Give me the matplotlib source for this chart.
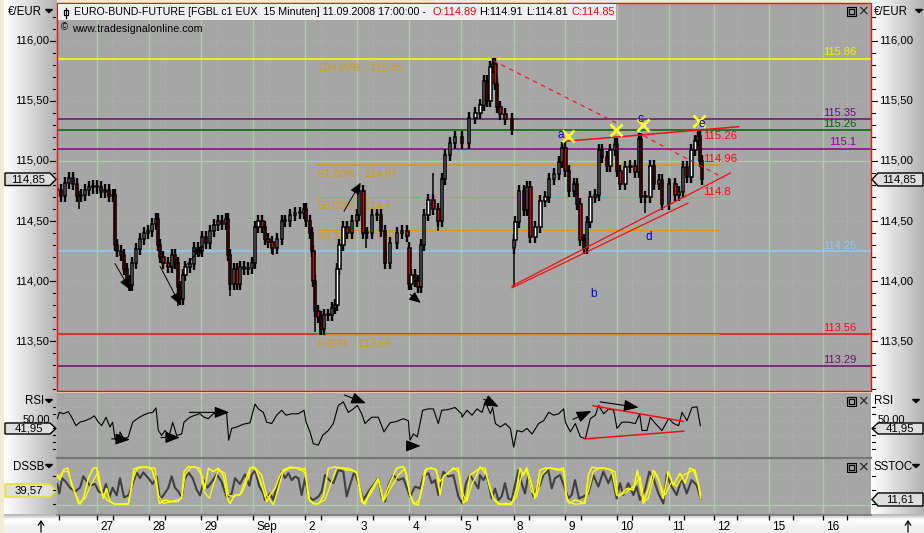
import matplotlib
matplotlib.use("Agg")
import matplotlib.pyplot as plt
import numpy as np
from matplotlib.patches import Polygon, Rectangle
from matplotlib.transforms import ScaledTranslation
from matplotlib.ticker import FixedLocator

plt.rcParams['font.family'] = ['Liberation Sans', 'DejaVu Sans']

# ---- time axis (bar positions) ----
day_pos = [292,448,604,760,916,1072,1228,1384,1541,1696,1850,2006,2141,2306,2468]
day_lab = ["27","28","29","Sep","2","3","4","5","8","9","10","11","12","15","16"]
sub_pos = [178,338,494,650,806,962,1118,1274,1430,1587,1742,1896,2052,2211,2378,2541]

# ---- price candles ----
bar_x = [171,183,195,207,219,231,243,255,267,279,291,303,315,327,339,345,351,363,372,380,390,396,408,420,432,444,456,468,474,480,490,505,515,525,533,540,548,556,570,582,594,606,618,630,642,654,666,678,684,690,702,712,720,732,744,756,765,775,787,795,805,817,830,845,855,870,885,900,912,918,930,936,940,945,955,962,972,985,995,1005,1012,1018,1030,1042,1055,1070,1076,1090,1100,1115,1130,1142,1155,1170,1190,1205,1222,1228,1234,1245,1255,1262,1272,1285,1300,1315,1325,1335,1350,1365,1386,1406,1426,1441,1451,1461,1471,1479,1486,1491,1501,1516,1536,1541,1546,1556,1571,1581,1591,1606,1621,1636,1646,1661,1676,1686,1696,1706,1721,1731,1741,1751,1761,1771,1786,1796,1806,1821,1831,1844,1851,1861,1876,1891,1906,1916,1923,1936,1951,1961,1976,1986,2006,2026,2036,2048,2061,2074,2086,2093,2099,2106]
bar_close = [114.76,114.71,114.82,114.86,114.81,114.71,114.72,114.76,114.78,114.79,114.78,114.74,114.76,114.71,114.72,114.30,114.25,114.22,114.10,114.00,113.97,114.15,114.27,114.35,114.40,114.42,114.48,114.52,114.30,114.20,114.15,114.12,114.22,114.15,113.95,113.85,114.05,114.12,114.14,114.28,114.25,114.37,114.32,114.42,114.47,114.50,114.48,114.52,114.22,113.98,114.10,113.98,114.12,114.10,114.11,114.15,114.45,114.50,114.45,114.35,114.33,114.28,114.35,114.50,114.50,114.55,114.57,114.57,114.60,114.50,114.40,114.25,114.00,113.75,113.70,113.60,113.72,113.72,113.78,113.80,114.10,114.30,114.45,114.40,114.50,114.55,114.75,114.40,114.40,114.55,114.55,114.42,114.15,114.32,114.40,114.42,114.38,113.98,114.05,114.00,113.95,114.30,114.55,114.68,114.60,114.50,114.85,115.05,115.15,115.20,115.15,115.36,115.40,115.47,115.67,115.50,115.78,115.81,115.64,115.45,115.39,115.35,115.27,114.34,114.49,114.75,114.59,114.78,114.37,114.45,114.67,114.70,114.85,114.89,114.99,115.11,114.92,114.75,114.81,114.64,114.34,114.28,114.49,114.70,114.72,115.09,115.03,114.96,115.09,115.14,114.92,114.81,114.95,114.96,114.91,115.18,114.70,114.70,114.96,114.81,114.84,114.64,114.81,114.72,114.74,114.95,114.87,115.09,115.17,115.21,115.00,114.85]
session_open_x = [1228, 1541]
session_open_px = [114.28, 114.28]
tail_x = [238,388,535,690,818,945,960,1098,1158,1300,1315,1541,1936,2011]
tail_low = [114.60,113.92,113.79,113.88,114.22,113.58,113.55,114.28,114.17,114.60,114.42,113.95,114.57,114.67]
tail_high = [114.75,114.00,113.95,114.10,114.30,113.80,113.70,114.45,114.25,114.90,114.55,114.30,114.75,114.85]

# ---- levels ----
full_levels = [115.85, 115.35, 115.26, 115.10, 114.25, 113.56, 113.29]
full_colors = ['#ffff00', '#6a0f6a', '#006400', '#8b008b', '#87cefa', '#ee1010', '#6a0f6a']
level_labels = ["115.86","115.35","115.26","115.1","114.25","113.56","113.29"]
level_label_px = [115.905, 115.40, 115.31, 115.16, 114.29, 113.61, 113.34]
fib_levels = [114.97, 114.70, 114.43, 113.55]
fib_width = [1.2, 0.8, 0.8, 1.2]
fib_text = ["100,00% - 115,85","61,80% - 114,97","50,00% - 114,7","38,20% - 114,43","0,00% - 113,55"]
fib_text_y = [115.78, 114.90, 114.63, 114.37, 113.48]

# ---- RSI ----
rsi_x = [172,178,190,205,215,228,240,255,270,283,295,305,318,330,338,345,358,360,372,385,398,415,430,445,458,468,475,485,495,508,518,530,545,552,570,585,600,612,625,640,655,672,680,686,695,710,730,750,765,775,790,800,815,830,845,858,875,895,912,918,930,940,955,968,985,1000,1015,1030,1045,1060,1072,1085,1095,1115,1135,1152,1170,1190,1210,1225,1230,1240,1252,1268,1285,1300,1315,1325,1345,1365,1385,1386,1401,1416,1431,1446,1456,1471,1478,1486,1501,1516,1531,1541,1551,1566,1581,1596,1616,1631,1646,1661,1676,1691,1696,1711,1726,1741,1756,1771,1786,1796,1811,1826,1841,1851,1866,1886,1906,1919,1926,1941,1951,1966,1986,2006,2021,2036,2046,2061,2076,2091,2101]
rsi_v = [54,63,61,64,56,44,49,51,54,58,49,44,56,42,49,25,24,35,24,28,49,55,59,62,63,69.5,37,30,37,30,49,30,32,49,56,59,61,56,54,61,63,65,61,23,40,42,46,48,75,68,63,49,47,59,66,59,61,61,66,49,35,18,16,30,37,47,73,78,63,68,73,61,47,56,56,35,48,50,54,51,23,32,28,66,68,68,47,66,67,70,61,56,66,59,68,63,78,61,70,47,42,47,40,13,37,35,40,32,47,51,63,59,61,68,49,35,47,28,25,54,59,73,61,68,66,40,49,49,47,61,37,37,56,47,37,54,47,44,63,51,70,71,44]

# ---- stochastics ----
sto_x = [172,178,186,198,210,225,240,250,258,270,285,296,308,318,328,338,350,360,372,385,396,410,420,430,445,458,470,480,490,505,515,525,535,545,553,565,578,590,600,612,622,635,650,665,680,695,705,720,735,748,755,765,778,790,795,810,820,830,845,855,865,875,885,895,905,915,925,940,955,965,975,988,1000,1015,1030,1040,1050,1063,1075,1090,1105,1120,1135,1145,1155,1165,1180,1195,1210,1230,1245,1260,1270,1285,1295,1305,1315,1330,1345,1360,1375,1387,1398,1410,1420,1435,1440,1450,1460,1475,1485,1495,1505,1515,1525,1535,1545,1555,1565,1575,1585,1600,1610,1620,1630,1645,1655,1665,1680,1695,1705,1715,1725,1737,1750,1765,1780,1795,1810,1825,1835,1850,1860,1870,1885,1900,1910,1920,1935,1948,1960,1975,1990,2000,2015,2030,2045,2060,2075,2090,2102]
sto_v = [55,30,70,60,45,35,45,75,65,50,55,35,30,55,20,45,25,70,20,25,50,85,70,85,70,55,75,15,25,45,75,45,35,20,65,85,70,40,25,65,45,60,80,60,20,30,70,55,80,50,78,91,48,30,13,30,13,48,87,70,83,65,74,70,26,70,22,13,22,35,78,65,57,91,87,22,52,87,57,13,35,52,70,22,9,52,78,65,70,22,48,43,74,83,57,65,26,87,74,78,22,4,57,78,65,43,78,65,78,17,43,13,22,57,17,13,52,91,57,30,78,22,43,52,78,91,43,70,78,43,17,26,65,17,22,30,78,48,87,57,78,17,57,26,57,26,48,13,39,87,70,30,4,78,48,26,70,30,65,52,17]
fast_x = [172,180,190,203,215,228,240,250,265,280,290,297,310,320,330,345,365,385,395,402,420,440,455,470,478,495,515,535,545,552,565,590,605,615,625,640,655,670,682,690,705,720,735,748,750,760,770,785,800,810,825,840,850,870,890,900,915,925,940,955,970,985,1005,1025,1040,1055,1070,1085,1095,1110,1135,1150,1165,1190,1210,1220,1230,1240,1255,1265,1275,1295,1310,1320,1330,1345,1360,1375,1390,1400,1410,1425,1440,1455,1470,1480,1495,1515,1535,1550,1560,1570,1580,1590,1605,1620,1635,1655,1675,1690,1698,1708,1725,1740,1755,1765,1775,1795,1815,1835,1850,1860,1880,1900,1912,1920,1930,1945,1960,1975,1990,2005,2020,2040,2055,2070,2085,2095,2102]
fast_v = [78,65,91,97,52,26,2,17,70,96,97,61,17,43,9,2,2,2,52,94,99,98,94,52,4,13,9,9,22,87,100,98,78,43,96,87,96,78,17,4,26,26,61,91,96,100,87,52,9,26,43,78,91,99,97,91,96,17,3,3,22,96,99,97,91,91,83,9,2,35,70,13,48,96,100,78,26,4,0,43,91,97,91,26,74,83,97,87,4,17,78,87,96,96,43,17,2,4,2,43,96,78,97,70,17,91,96,96,91,97,26,4,13,9,4,78,98,96,96,91,26,26,43,39,91,52,4,43,91,70,17,87,52,83,57,96,91,52,17]
slow_x = [172,190,205,220,235,255,275,295,305,320,345,385,400,412,440,465,475,490,515,545,555,575,600,612,628,640,655,675,685,700,725,748,750,765,785,800,820,835,850,870,900,915,930,950,975,995,1010,1045,1070,1090,1110,1135,1150,1175,1195,1215,1230,1245,1260,1280,1305,1320,1335,1355,1375,1390,1400,1415,1430,1440,1460,1480,1500,1530,1550,1565,1580,1595,1610,1625,1645,1675,1692,1702,1725,1750,1765,1780,1800,1825,1845,1855,1880,1905,1920,1933,1945,1965,1985,1995,2015,2030,2050,2080,2095,2102]
slow_v = [70,87,87,43,4,17,57,87,35,13,2,4,70,96,99,96,26,4,9,17,78,100,96,35,17,52,91,83,26,22,30,78,96,97,78,26,0,43,87,96,97,83,9,2,13,61,96,96,87,4,26,65,9,48,78,96,26,2,17,96,94,61,78,91,97,26,9,52,78,100,78,17,2,2,22,78,91,35,22,78,97,94,87,9,2,4,35,87,97,94,87,22,35,52,74,9,17,87,43,26,61,48,78,91,57,26]

BG = '#a6a6a6'
GRID = '#b4c8ae'
W, H = 924, 533
fig = plt.figure(figsize=(W/100, H/100), dpi=100, facecolor='#f3ead3')

def frame(x0, y0, x1, y1, **kw):
    return fig.add_axes([x0/W, 1-y1/H, (x1-x0)/W, (y1-y0)/H], **kw)

# chrome gradients
bgax = frame(0, 0, W, H, zorder=0)
bgax.set_xlim(0, W); bgax.set_ylim(H, 0); bgax.axis('off')
gl = np.linspace(1, .70, 64)[None, :]
bgax.imshow(gl, cmap='gray', vmin=0, vmax=1, extent=[4, 57, H, 0], aspect='auto')
bgax.imshow(gl, cmap='gray', vmin=0, vmax=1, extent=[871, 924, H, 0], aspect='auto')
gb = np.array([.72, .85, .97, 1, .98, .96, .95, .94, .94, .93])[:, None]
bgax.imshow(gb, cmap='gray', vmin=0, vmax=1, extent=[4, 924, 533, 514], aspect='auto')
bgax.set_xlim(0, W); bgax.set_ylim(H, 0)

XL = (171, 2613)
def style_panel(a, hy_dot, hy_solid):
    a.set_facecolor(BG); a.set_xlim(*XL)
    for p in day_pos:
        a.axvline(p, color=GRID, lw=1.0, zorder=1)
    for p in sub_pos:
        a.axvline(p, color='#b8ccb4', lw=.6, ls=(0, (1, 5)), zorder=1)
    for v in hy_dot:
        a.axhline(v, color='#b8ccb4', lw=.6, ls=(0, (1, 5)), zorder=1)
    for v in hy_solid:
        a.axhline(v, color=GRID, lw=1.0, zorder=1)
    for s in a.spines.values():
        s.set_visible(False)
    a.set_xticks([]); a.set_yticks([])

# --- price panel ---
ax = frame(57, 2.5, 871, 391, zorder=2)
style_panel(ax, [116, 115.5, 114.5, 114, 113.5], [115])
ax.set_ylim(113.086, 116.32)
for v, c in zip(full_levels, full_colors):
    ax.axhline(v, color=c, lw=1.1, zorder=2)
for v, w in zip(fib_levels, fib_width):
    ax.plot([954, 2157], [v, v], color='#d89a10', lw=w, zorder=3)
for t, v in zip(fib_text, fib_text_y):
    ax.text(954, v, t, color='#d49a14', fontsize=7.8, va='center', zorder=3)

opens = [bar_close[0]] + bar_close[:-1]
for sx, sp in zip(session_open_x, session_open_px):
    opens[bar_x.index(sx)] = sp
xs = np.array(bar_x, float); cl = np.array(bar_close); op = np.array(opens)
hi = np.maximum(op, cl); lo = np.minimum(op, cl)
ax.vlines(xs, lo-.05, hi+.05, color='black', lw=1.7, zorder=4)
ax.vlines(tail_x, tail_low, tail_high, color='black', lw=1.1, zorder=4)
cols = ['white' if c >= o else '#e00000' for o, c in zip(op, cl)]
ax.bar(xs, np.maximum(hi-lo, .008), bottom=lo, width=7, color=cols, edgecolor='black', lw=1.1, zorder=5)

# drawn tools on the price panel
red = '#f01010'
ax.plot([1693, 2216], [115.164, 115.286], color=red, lw=1.1, zorder=6)
ax.plot([1536, 2191], [113.960, 114.90], color=red, lw=.9, zorder=6)
ax.plot([1536, 2064], [113.945, 114.65], color=red, lw=.9, zorder=6)
ax.plot([1480, 1866], [115.836, 115.294], color=red, lw=.8, ls=(0, (4, 4)), zorder=6)
ax.plot([1931, 2170], [115.21, 114.86], color=red, lw=.8, ls=(0, (4, 4)), zorder=6)
mark_x = [1703, 1849, 1929, 2096]
mark_y = [115.21, 115.26, 115.30, 115.33]
ax.plot(mark_x, mark_y, ls='', marker='x', ms=8, mew=2, color='#ffff30', zorder=7)
for s, x, y in zip(["a","b","c","d","e"], [1681,1780,1921,1946,2104], [115.22,113.89,115.35,114.37,115.31]):
    ax.text(x, y, s, color='#0000e0', fontsize=8.5, ha='center', va='center', zorder=7)
for s, y in zip(["115.26","114.96","114.8"], [115.21,115.02,114.74]):
    ax.text(2108, y, s, color=red, fontsize=8.2, va='center', zorder=7)
for s, v, c in zip(level_labels, level_label_px, full_colors):
    x = 2468 if s != "115.1" else 2486
    cc = '#f0f000' if c == '#ffff00' else c
    ax.text(x, v, s, color=cc, fontsize=8, va='center', zorder=7)
arrows_main = [((345,114.147),(390,113.93)), ((480,114.125),(540,113.806)), ((1032,114.583),(1082,114.82)),
               ((1230,113.89),(1262,113.82)), ((555,114.12),(610,114.30))]
for a, b in arrows_main:
    ax.annotate('', xy=b, xytext=a, zorder=7,
                arrowprops=dict(arrowstyle='-|>,head_width=.3,head_length=.7', color='black', lw=.7, shrinkA=0, shrinkB=0))
ax.set_yticks([])

# --- RSI ---
ar = frame(57, 392.5, 871, 457, zorder=2)
style_panel(ar, [70, 50, 30], [])
ar.set_ylim(-1, 91.5)
ar.plot(rsi_x, rsi_v, color='black', lw=.8, zorder=4)
ar.plot([1779, 2051], [72.5, 50], color=red, lw=1.1, zorder=5)
ar.plot([1756, 2051], [25, 36], color=red, lw=1.1, zorder=5)
rsi_arrows = [((335,25),(390,24)), ((483,27),(540,27)), ((568,63),(688,63)), ((1033,88),(1098,76)),
              ((1230,15),(1262,15)), ((1451,82),(1496,71)), ((1719,53),(1774,65)), ((1801,78),(1916,70))]
for a, b in rsi_arrows:
    ar.annotate('', xy=b, xytext=a, zorder=6,
                arrowprops=dict(arrowstyle='-|>,head_width=.35,head_length=.9', color='black', lw=.8, shrinkA=0, shrinkB=0))

# --- stochastic ---
ad = frame(57, 459, 871, 514, zorder=2)
style_panel(ad, [80, 20], [0])
ad.set_ylim(-23.5, 120)
ad.plot(sto_x, sto_v, color='#404040', lw=1.5, zorder=4)
ad.plot(slow_x, slow_v, color='#ffff00', lw=.9, zorder=5)
ad.plot(fast_x, fast_v, color='#ffff00', lw=1.1, zorder=5)
ad.set_xticks(day_pos)
ad.set_xticklabels(day_lab, fontsize=8.5, ha='left')
ad.xaxis.set_minor_locator(FixedLocator(sub_pos))
ad.tick_params(axis='x', which='major', length=4, width=.9, pad=1, color='black')
ad.tick_params(axis='x', which='minor', length=4, width=.9, color='black')
off = ScaledTranslation(3/100, 0, fig.dpi_scale_trans)
for lb in ad.get_xticklabels():
    lb.set_transform(lb.get_transform() + off)

# --- overlay: frame, axis labels, tags, title ---
ov = frame(0, 0, W, H, zorder=10)
ov.set_xlim(0, W); ov.set_ylim(H, 0); ov.axis('off'); ov.patch.set_alpha(0)

ov.add_patch(Rectangle((57, 2.5), 814, 388.5, fill=False, edgecolor='#f01010', lw=1.0))
ov.plot([57, 871], [458, 458], color='#777777', lw=1.6)
ov.plot([57, 871], [514.5, 514.5], color='#777777', lw=1.2)

pt = lambda p: 40.7 + (116 - p) * 120.2
for i in range(0, 33):
    p = 113.1 + i * .1
    y = pt(p)
    if y < 8:
        continue
    major = abs(p*2 - round(p*2)) < 1e-6
    ov.plot([50 if major else 53, 55], [y, y], color='black', lw=.8)
    ov.plot([872, 877 if major else 875], [y, y], color='black', lw=.8)
    if major:
        s = f"{p:.2f}".replace('.', ',')
        ov.text(49, y, s, ha='right', va='center', fontsize=8.2, color='black')
        ov.text(879, y, s, ha='left', va='center', fontsize=8.2, color='black')
for y in [407.3, 414, 428, 435.3, 442, 449, 476, 490, 504]:
    ov.plot([53, 55], [y, y], color='black', lw=.8)
    ov.plot([872, 875], [y, y], color='black', lw=.8)
ov.text(50, 420, "50,00", ha='right', va='center', fontsize=8, color='black')
ov.text(878, 420, "50,00", ha='left', va='center', fontsize=8, color='black')

def tag(x0, x1, y0, y1, s, ec, left_tip=False, fs=8.2):
    ym = (y0+y1)/2
    if left_tip:
        pts = [(x0, ym), (x0+6, y0), (x1, y0), (x1, y1), (x0+6, y1)]
    else:
        pts = [(x0, y0), (x1-6, y0), (x1, ym), (x1-6, y1), (x0, y1)]
    ov.add_patch(Polygon(pts, closed=True, facecolor='#dedede', edgecolor=ec, lw=1.0))
    ov.text((x0+x1)/2 + (2 if left_tip else -2), ym, s, ha='center', va='center', fontsize=fs, color='black')

tag(5, 56, 173, 185.5, "114,85", 'black')
tag(5, 56, 423, 434, "41,95", 'black')
tag(5, 56, 484, 497, "39,57", '#e8e800')
tag(872, 923, 173, 186, "114,85", 'black', True)
tag(872, 923, 423, 434, "41,95", 'black', True)
tag(872, 923, 493, 506, "11,61", 'black', True)

for x, y, s in [(8, 12, "€/EUR"), (25, 401, "RSI"), (13, 467, "DSSB"),
                (874, 12, "€/EUR"), (874, 401, "RSI"), (874, 467, "SSTOC")]:
    ov.text(x, y, s, fontsize=8.3, va='center', color='black')
for x, y in [(49, 11), (919, 11), (49, 401), (916, 401), (49, 466), (916, 466)]:
    ov.add_patch(Polygon([(x-3.5, y-1.5), (x+3.5, y-1.5), (x, y+1.5)], closed=True, color='black'))

# title strip
ov.add_patch(Rectangle((58, 4), 558, 16, facecolor='#f0f0f0', edgecolor='none'))
ov.plot([66, 66], [8, 18], color='black', lw=.9)
ov.add_patch(Rectangle((64, 10), 4, 5, facecolor='white', edgecolor='black', lw=.9))
ov.text(74, 12, "EURO-BUND-FUTURE [FGBL c1 EUX  15 Minuten] 11.09.2008 17:00:00 -",
        fontsize=7.65, va='center', color='black')
for x, s, c in [(432.7, "O:114.89", 'red'), (479.5, "H:114.91", 'black'), (526, "L:114.81", 'black'), (571.7, "C:114.85", 'red')]:
    ov.text(x, 12, s, fontsize=7.9, va='center', color=c)
ov.text(61, 27, "©", fontsize=7, va='center', color='black')
ov.text(72, 28.5, "www.tradesignalonline.com", fontsize=7.7, va='center', color='black')

# window buttons
for y in [11, 401, 467]:
    ov.add_patch(Rectangle((847, y-4.5), 9, 9, facecolor='#8a8a8a', edgecolor='black', lw=.8))
    ov.add_patch(Rectangle((849, y-2.5), 5, 5, facecolor='#a6a6a6', edgecolor='black', lw=.8))
    ov.text(863, y, "×", fontsize=10, ha='center', va='center', color='#202020', family='DejaVu Sans')

for x in [41, 908]:
    ov.annotate('', xy=(x, 520), xytext=(x, 532),
                arrowprops=dict(arrowstyle='->,head_width=.2,head_length=.3', color='black', lw=.9, shrinkA=0, shrinkB=0))

fig.savefig("out.png", dpi=100, facecolor=fig.get_facecolor())
